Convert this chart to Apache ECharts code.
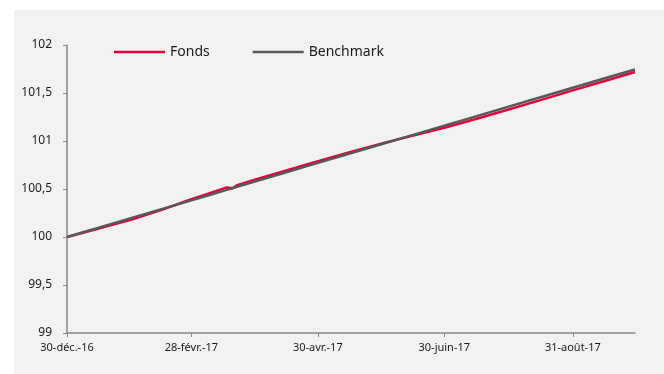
<!DOCTYPE html>
<html>
<head>
<meta charset="utf-8">
<script src="https://cdn.jsdelivr.net/npm/echarts@6/dist/echarts.min.js"></script>
<style>
  html, body { margin: 0; padding: 0; background: #fff; }
  #chart { width: 664px; height: 374px; }
</style>
</head>
<body>
<div id="chart"></div>
<script>
// dates of the points
var dates = ['2016-12-30', '2017-01-13', '2017-01-31', '2017-02-14', '2017-02-28', '2017-03-10',
  '2017-03-17', '2017-03-20', '2017-03-22', '2017-03-31', '2017-04-14', '2017-04-28', '2017-05-15',
  '2017-05-31', '2017-06-15', '2017-06-30', '2017-07-14', '2017-07-31', '2017-08-15', '2017-08-31',
  '2017-09-15', '2017-09-30']
var fonds = [100.000, 100.080, 100.188, 100.285, 100.393, 100.465, 100.515, 100.508, 100.540,
  100.600, 100.688, 100.777, 100.880, 100.975, 101.058, 101.138, 101.222, 101.328, 101.423,
  101.527, 101.622, 101.718]
var benchmark = [100.000, 100.089, 100.204, 100.293, 100.382, 100.446, 100.491, 100.510, 100.523,
  100.580, 100.669, 100.759, 100.867, 100.969, 101.064, 101.160, 101.249, 101.358, 101.453,
  101.555, 101.651, 101.745]
var tickDates = ['2016-12-30', '2017-02-28', '2017-04-30', '2017-06-30', '2017-08-31']
var tickLabels = ['30-déc.-16', '28-févr.-17', '30-avr.-17', '30-juin-17', '31-août-17']

// x positions as days since the first date
var start = '2016-12-30'
function day(s) {
  var a = s.split('-'), b = start.split('-')
  return Math.round((Date.UTC(+a[0], +a[1] - 1, +a[2]) - Date.UTC(+b[0], +b[1] - 1, +b[2])) / 86400000)
}
var tickDays = tickDates.map(day)

var chart = echarts.init(document.getElementById('chart'))
var font = 'Noto Sans'

var option = {
  backgroundColor: '#fff',
  animation: false,
  graphic: [{
    type: 'rect',
    z: -10,
    shape: { x: 14, y: 10, width: 650, height: 364 },
    style: { fill: '#f2f2f2' }
  }],
  legend: {
    left: 114,
    top: 45,
    padding: 0,
    itemWidth: 51,
    itemHeight: 2.5,
    itemGap: 43,
    icon: 'rect',
    textStyle: { fontFamily: font, fontSize: 14, color: '#1a1a1a' },
    data: ['Fonds', 'Benchmark']
  },
  grid: { left: 67, right: 29, top: 45, bottom: 41 },
  xAxis: {
    type: 'value',
    min: 0,
    max: day('2017-09-30'),
    splitLine: { show: false },
    axisLine: { lineStyle: { color: '#868686', width: 1.5 } },
    axisTick: { show: true, customValues: tickDays, length: 4, lineStyle: { color: '#868686' } },
    axisLabel: {
      customValues: tickDays,
      margin: 9,
      fontFamily: font,
      fontSize: 11,
      color: '#1a1a1a',
      formatter: function (v) {
        var i = tickDays.indexOf(v)
        return i >= 0 ? tickLabels[i] : ''
      }
    }
  },
  yAxis: {
    type: 'value',
    min: 99,
    max: 102,
    interval: 0.5,
    splitLine: { show: false },
    axisLine: { show: true, lineStyle: { color: '#868686', width: 1.5 } },
    axisTick: { show: true, length: 4, lineStyle: { color: '#868686' } },
    axisLabel: {
      margin: 15,
      fontFamily: font,
      fontSize: 12,
      color: '#1a1a1a',
      formatter: function (v) { return String(v).replace('.', ',') }
    }
  },
  series: [
    {
      name: 'Fonds',
      type: 'line',
      showSymbol: false,
      color: '#e4003a',
      lineStyle: { color: '#e4003a', width: 2.5 },
      data: dates.map(function (d, i) { return [day(d), fonds[i]] })
    },
    {
      name: 'Benchmark',
      type: 'line',
      showSymbol: false,
      color: '#595959',
      lineStyle: { color: '#595959', width: 2.5 },
      data: dates.map(function (d, i) { return [day(d), benchmark[i]] })
    }
  ]
}
chart.setOption(option)
</script>
</body>
</html>
